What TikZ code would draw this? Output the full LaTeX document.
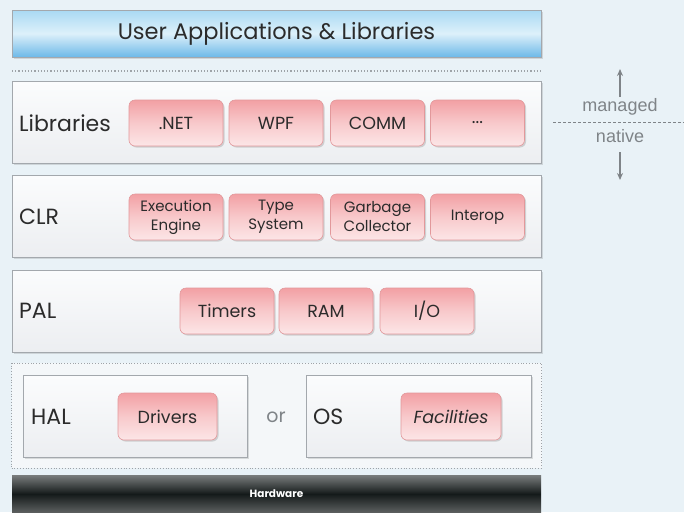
\documentclass[tikz,border=0pt]{standalone}
\usepackage{fontspec}
\setmainfont{Poppins}
\newfontfamily\arialf{Liberation Sans}
\usetikzlibrary{shadows,arrows.meta}
\definecolor{bgblue}{HTML}{E9F2F7}
\definecolor{layerborder}{HTML}{A3A8AD}
\definecolor{layertop}{HTML}{FBFCFD}
\definecolor{layerbot}{HTML}{ECEEF1}
\definecolor{pinktop}{HTML}{F2A0A4}
\definecolor{pinkmid}{HTML}{F8C9CB}
\definecolor{pinkbot}{HTML}{FCE6E7}
\definecolor{pinkborder}{HTML}{E2989B}
\definecolor{bluetop}{HTML}{A9D9F3}
\definecolor{bluemid}{HTML}{DDF0FA}
\definecolor{bluebot}{HTML}{6DB9E8}
\definecolor{hwtop}{HTML}{7A7D7D}
\definecolor{hwmid}{HTML}{141A1A}
\definecolor{hwbot}{HTML}{5F6262}
\definecolor{txt}{HTML}{2B2B2B}
\definecolor{sidegray}{HTML}{7F8488}
\definecolor{dotgray}{HTML}{9EA3A8}
\definecolor{groupfill}{HTML}{F4F7F9}
\begin{document}
\begin{tikzpicture}[x=1pt,y=1pt,
  layer/.style={draw=layerborder, line width=0.8pt, top color=layertop, bottom color=layerbot,
    drop shadow={opacity=0.25, shadow xshift=1.5pt, shadow yshift=-1.5pt},
    inner sep=0pt, minimum width=529pt, minimum height=82pt},
  pinkbox/.style={draw=pinkborder, line width=0.6pt, rounded corners=6pt,
    top color=pinktop, bottom color=pinkbot, middle color=pinkmid,
    drop shadow={opacity=0.3, shadow xshift=1.5pt, shadow yshift=-1.5pt},
    inner sep=0pt, minimum width=94pt, minimum height=46pt, align=center, text=txt,
    font=\fontsize{17.5}{20}\selectfont},
  twoline/.style={font=\fontsize{15}{19}\selectfont},
  lbl/.style={anchor=west, inner sep=0pt, text=txt, font=\fontsize{22}{26}\selectfont},
  sidetxt/.style={inner sep=0pt, text=sidegray, font=\arialf\fontsize{18}{20}\selectfont},
  sidearrow/.style={draw=sidegray, line width=1.4pt, -{Stealth[length=7pt,width=6pt]}}
]
\fill[bgblue] (0,-512) rectangle (684,0);
\useasboundingbox (0,-512) rectangle (684,0);

% top bar
\node[draw=layerborder, line width=0.8pt, top color=bluetop, bottom color=bluebot, middle color=bluemid,
  drop shadow={opacity=0.25, shadow xshift=1.5pt, shadow yshift=-1.5pt},
  inner sep=0pt, minimum width=529pt, minimum height=47pt, text=txt,
  font=\fontsize{22.5}{26}\selectfont] (user) at (276.5,-33.5) {User Applications \& Libraries};

% dotted separator
\coordinate (sepL) at (12,-71);
\coordinate (sepR) at (541,-71);
\draw[dotgray, line width=1.2pt, dotted] (sepL) -- (sepR);

% Libraries layer
\node[layer] (lib) at (276.5,-122.5) {};
\node[lbl] (libT) at (19,-123) {Libraries};
\node[pinkbox] (net) at (176,-123) {.NET};
\node[pinkbox] (wpf) at (276,-123) {WPF};
\node[pinkbox] (comm) at (377.5,-123) {COMM};
\node[pinkbox] (dots) at (477.5,-123) {...};

% CLR layer
\node[layer] (clr) at (276.5,-216.5) {};
\node[lbl] (clrT) at (19,-217) {CLR};
\node[pinkbox, twoline] (ee) at (176,-217) {Execution\\Engine};
\node[pinkbox, twoline] (ts) at (276,-217) {Type\\System};
\node[pinkbox, twoline] (gc) at (377.5,-217) {Garbage\\Collector};
\node[pinkbox, twoline] (iop) at (477.5,-217) {Interop};

% PAL layer
\node[layer] (pal) at (276.5,-311) {};
\node[lbl] (palT) at (19,-311) {PAL};
\node[pinkbox] (tim) at (227,-311) {Timers};
\node[pinkbox] (ram) at (326,-311) {RAM};
\node[pinkbox] (io) at (427,-311) {I/O};

% HAL / OS group
\node[draw=dotgray, dotted, line width=0.8pt, fill=groupfill, inner sep=0pt,
  minimum width=530pt, minimum height=105pt] (grp) at (276.5,-415.5) {};
\node[layer, minimum width=224pt] (hal) at (135,-416.5) {};
\node[lbl] (halT) at (31,-417) {HAL};
\node[pinkbox, minimum width=99pt, minimum height=47pt] (drv) at (167.5,-416.5) {Drivers};
\node[inner sep=0pt, text=sidegray, font=\fontsize{19}{22}\selectfont] (or) at (276,-417) {or};
\node[layer, minimum width=225pt] (os) at (418.5,-416.5) {};
\node[lbl] (osT) at (313,-417) {OS};
\node[pinkbox, minimum width=100pt, minimum height=47pt, font=\itshape\fontsize{17.5}{20}\selectfont] (fac) at (451,-416.5) {Facilities};

% Hardware bar
\node[top color=hwtop, bottom color=hwbot, middle color=hwmid, inner sep=0pt,
  minimum width=529pt, minimum height=38pt, text=white,
  font=\bfseries\fontsize{10.5}{12}\selectfont] (hw) at (276.5,-494) {Hardware};

% managed / native
\node[sidetxt] (man) at (620,-107) {managed};
\node[sidetxt] (nat) at (620,-136) {native};
\coordinate (upS) at (620,-97);
\coordinate (upE) at (620,-69);
\coordinate (dnS) at (620,-152);
\coordinate (dnE) at (620,-180);
\coordinate (dashL) at (553,-122);
\coordinate (dashR) at (684,-122);
\draw[sidearrow] (upS) -- (upE);
\draw[sidearrow] (dnS) -- (dnE);
\draw[sidegray, dashed, dash pattern=on 3pt off 2pt, line width=0.7pt] (dashL) -- (dashR);
\end{tikzpicture}
\end{document}
